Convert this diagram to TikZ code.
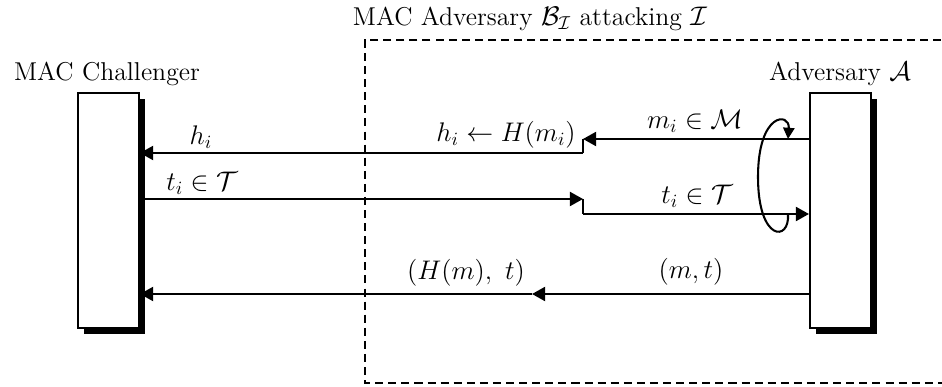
\documentclass[tikz,border=0pt]{standalone}
\usetikzlibrary{arrows.meta}
\begin{document}
\begin{tikzpicture}[x=0.535pt,y=-0.535pt,
  font=\fontsize{13.8}{16}\selectfont,
  party/.style={draw,fill=white,line width=1.1pt,minimum width=61*0.535pt,minimum height=235*0.535pt,inner sep=0pt},
  shadowbox/.style={fill=black},
  msg/.style={line width=1.1pt,-{Triangle[length=7pt,width=7.5pt]}},
  seg/.style={line width=1.1pt},
  lbl/.style={inner sep=0pt}]
\useasboundingbox (0,0) rectangle (942,387);
% dashed adversary box
\draw[line width=1.1pt,dash pattern=on 4.3pt off 2.7pt] (980,40) -- (365,40) -- (365,383) -- (980,383);
\node[lbl] (title) at (530,19) {MAC Adversary $\mathcal{B}_{\mathcal{I}}$ attacking $\mathcal{I}$};
% shadows
\fill[shadowbox] (84,99) rectangle (145,334);
\fill[shadowbox] (816,99) rectangle (877,334);
% parties
\node[party] (chal) at (108.5,210.5) {};
\node[party] (adv) at (840.5,210.5) {};
\node[lbl] (chaltxt) at (107,74) {MAC Challenger};
\node[lbl] (advtxt) at (840,74) {Adversary $\mathcal{A}$};
% relay points
\coordinate (r1) at (583,139);
\coordinate (r1b) at (583,153);
\coordinate (r2) at (583,199);
\coordinate (r2b) at (583,214);
\coordinate (r3) at (532,294);
% message 1
\draw[msg] (adv.west |- r1) -- (r1);
\draw[seg] (r1) -- (r1b);
\draw[msg] (r1b) -- (r1b -| chal.east) ;
% message 2
\draw[msg] (r2 -| chal.east) -- (r2);
\draw[seg] (r2) -- (r2b);
\draw[msg] (r2b) -- (r2b -| adv.west);
% message 3
\draw[msg] (adv.west |- r3) -- (r3);
\draw[msg] (r3) -- (r3 -| chal.east);
% loop
\coordinate (lp1) at (788,214);
\coordinate (lp2) at (788,139);
\draw[line width=1.1pt,-{Triangle[length=6pt,width=6pt]}] (lp1) .. controls (790,242) and (758,242) .. (758,177) .. controls (758,112) and (790,112) .. (lp2);
% labels
\node[lbl] (l1) at (201,137) {$h_i$};
\node[lbl] (l2) at (506,135) {$h_i \leftarrow H(m_i)$};
\node[lbl] (l3) at (695,121) {$m_i \in \mathcal{M}$};
\node[lbl] (l4) at (202,183) {$t_i \in \mathcal{T}$};
\node[lbl] (l5) at (697,196) {$t_i \in \mathcal{T}$};
\node[lbl] (l6) at (691,272) {$(m,t)$};
\node[lbl] (l7) at (466,273) {$(H(m),\ t)$};
\end{tikzpicture}
\end{document}
